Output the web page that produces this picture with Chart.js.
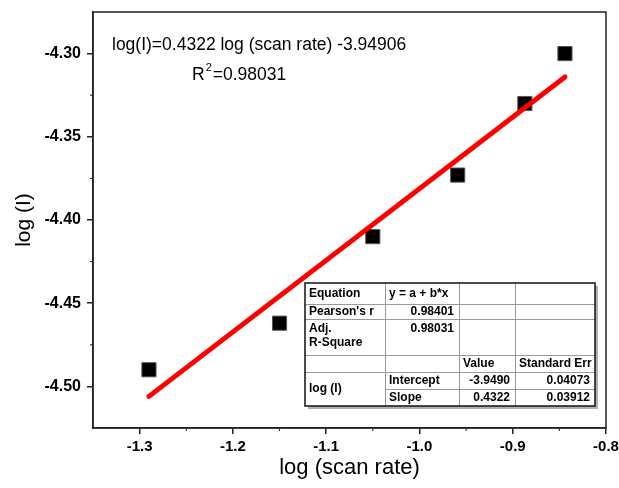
<!DOCTYPE html>
<html lang="en">
<head>
    <meta charset="UTF-8">
    <title>log (I) vs log (scan rate)</title>
    <script src="https://cdn.jsdelivr.net/npm/chart.js"></script>
    <style>
        body { margin: 0; background: white; }
        #wrap { width: 619px; height: 488px; }
    </style>
</head>
<body>
    <div id="wrap"><canvas id="fitChart" width="619" height="488"></canvas></div>

    <script>
        // measured points
        const scanRateLog = [-1.29, -1.15, -1.05, -0.959, -0.887, -0.844];
        const currentLog = [-4.490, -4.462, -4.410, -4.373, -4.330, -4.300];

        // ends of the fitted line as drawn
        const fitX = [-1.29, -0.844];
        const fitY = [-4.506, -4.314];

        const xTicks = [-1.3, -1.2, -1.1, -1.0, -0.9, -0.8];
        const yTicks = [-4.50, -4.45, -4.40, -4.35, -4.30];
        const xMinor = [-1.25, -1.15, -1.05, -0.95, -0.85];
        const yMinor = [-4.475, -4.425, -4.375, -4.325];

        const fitText = "log(I)=0.4322 log (scan rate) -3.94906";
        const r2Text = "0.98031";

        const tableRows = [
            ["Equation", "y = a + b*x", "", ""],
            ["Pearson's r", "0.98401", "", ""],
            ["Adj.\nR-Square", "0.98031", "", ""],
            ["", "", "Value", "Standard Err"],
            ["log (I)", "Intercept", "-3.9490", "0.04073"],
            ["", "Slope", "0.4322", "0.03912"]
        ];

        const FONT = "'Liberation Sans', Arial, sans-serif";

        const extras = {
            id: 'extras',
            afterDraw(chart) {
                const ctx = chart.ctx;
                const a = chart.chartArea;
                const xs = chart.scales.x, ys = chart.scales.y;
                ctx.save();

                // frame
                ctx.strokeStyle = '#222';
                ctx.lineWidth = 1.5;
                ctx.strokeRect(a.left, a.top, a.right - a.left, a.bottom - a.top);

                // minor ticks
                ctx.lineWidth = 1;
                ctx.beginPath();
                xMinor.forEach(v => {
                    let px = xs.getPixelForValue(v);
                    ctx.moveTo(px, a.bottom); ctx.lineTo(px, a.bottom + 3);
                });
                yMinor.forEach(v => {
                    let py = ys.getPixelForValue(v);
                    ctx.moveTo(a.left, py); ctx.lineTo(a.left - 3, py);
                });
                ctx.stroke();

                // equation text
                ctx.fillStyle = '#000';
                ctx.font = "17.5px " + FONT;
                ctx.textBaseline = 'middle';
                ctx.textAlign = 'left';
                ctx.fillText(fitText, 112, 45);
                ctx.fillText("R", 192, 75);
                let rw = ctx.measureText("R").width;
                ctx.font = "11px " + FONT;
                ctx.fillText("2", 192 + rw + 1, 68);
                let sw = ctx.measureText("2").width;
                ctx.font = "17.5px " + FONT;
                ctx.fillText("=" + r2Text, 192 + rw + sw + 2, 75);

                // stats table
                const cols = [305, 385, 459, 515, 595];
                const rows = [283, 304, 319, 355, 372, 389, 406];

                ctx.fillStyle = '#b0b0b0';
                ctx.fillRect(cols[0] + 3, rows[0] + 3, cols[4] - cols[0], rows[6] - rows[0]);
                ctx.fillStyle = '#fff';
                ctx.fillRect(cols[0], rows[0], cols[4] - cols[0], rows[6] - rows[0]);

                ctx.strokeStyle = '#999';
                ctx.lineWidth = 1;
                ctx.beginPath();
                for (let i = 1; i < 6; i++) {
                    let x0 = (i === 5) ? cols[1] : cols[0];
                    ctx.moveTo(x0, rows[i] + 0.5); ctx.lineTo(cols[4], rows[i] + 0.5);
                }
                for (let j = 1; j < 4; j++) {
                    ctx.moveTo(cols[j] + 0.5, rows[0]); ctx.lineTo(cols[j] + 0.5, rows[6]);
                }
                ctx.stroke();

                ctx.strokeStyle = '#111';
                ctx.lineWidth = 1.5;
                ctx.strokeRect(cols[0], rows[0], cols[4] - cols[0], rows[6] - rows[0]);

                ctx.fillStyle = '#000';
                ctx.font = "bold 12px " + FONT;
                tableRows.forEach((row, r) => {
                    row.forEach((txt, c) => {
                        if (!txt) return;
                        let isNum = /^-?[0-9.]+$/.test(txt);
                        let lines = txt.split("\n");
                        let yMid = (rows[r] + rows[r + 1]) / 2;
                        if (r === 4 && c === 0) yMid = (rows[4] + rows[6]) / 2;
                        if (r === 2) yMid = rows[r] + 10;
                        lines.forEach((ln, k) => {
                            let y = yMid + k * 14;
                            if (isNum) {
                                ctx.textAlign = 'right';
                                ctx.fillText(ln, cols[c + 1] - 5, y);
                            } else {
                                ctx.textAlign = 'left';
                                ctx.fillText(ln, cols[c] + 4, y);
                            }
                        });
                    });
                });
                ctx.restore();
            }
        };

        const ctx = document.getElementById("fitChart").getContext("2d");
        const fitChart = new Chart(ctx, {
            type: 'scatter',
            data: {
                datasets: [
                    {
                        type: 'line',
                        label: 'Linear fit',
                        data: fitX.map((x, i) => ({ x: x, y: fitY[i] })),
                        borderColor: '#ff0000',
                        borderWidth: 5,
                        borderCapStyle: 'round',
                        pointRadius: 0,
                        fill: false
                    },
                    {
                        label: 'log (I)',
                        data: scanRateLog.map((x, i) => ({ x: x, y: currentLog[i] })),
                        pointStyle: 'rect',
                        pointRadius: 10,
                        pointHoverRadius: 10,
                        backgroundColor: '#000',
                        borderColor: '#555',
                        borderWidth: 1
                    }
                ]
            },
            options: {
                responsive: false,
                animation: false,
                events: [],
                layout: { padding: { top: 12, right: 13, left: 0, bottom: 0 } },
                plugins: {
                    legend: { display: false },
                    tooltip: { enabled: false }
                },
                scales: {
                    x: {
                        type: 'linear',
                        min: -1.35,
                        max: -0.8,
                        afterBuildTicks: s => { s.ticks = xTicks.map(v => ({ value: v })); },
                        afterFit: s => { s.height = 60; s.paddingLeft = 0; s.paddingRight = 0; },
                        border: { color: '#222', width: 1.5 },
                        grid: { drawOnChartArea: false, tickLength: 6, color: '#222', lineWidth: 1.5 },
                        ticks: {
                            color: '#000',
                            padding: 4,
                            maxRotation: 0,
                            font: { family: FONT, size: 15, weight: 'bold' },
                            callback: v => v.toFixed(1)
                        },
                        title: {
                            display: true,
                            text: 'log (scan rate)',
                            color: '#000',
                            font: { family: FONT, size: 22 },
                            padding: { top: 0, bottom: 7 }
                        }
                    },
                    y: {
                        type: 'linear',
                        min: -4.525,
                        max: -4.275,
                        afterBuildTicks: s => { s.ticks = yTicks.map(v => ({ value: v })); },
                        afterFit: s => { s.width = 93; s.paddingTop = 0; s.paddingBottom = 0; },
                        border: { color: '#222', width: 1.5 },
                        grid: { drawOnChartArea: false, tickLength: 6, color: '#222', lineWidth: 1.5 },
                        ticks: {
                            color: '#000',
                            padding: 6,
                            font: { family: FONT, size: 16, weight: 'bold' },
                            callback: v => v.toFixed(2)
                        },
                        title: {
                            display: true,
                            text: 'log (I)',
                            color: '#000',
                            font: { family: FONT, size: 21 },
                            padding: { top: 12, bottom: 0 }
                        }
                    }
                }
            },
            plugins: [extras]
        });
    </script>
</body>
</html>
